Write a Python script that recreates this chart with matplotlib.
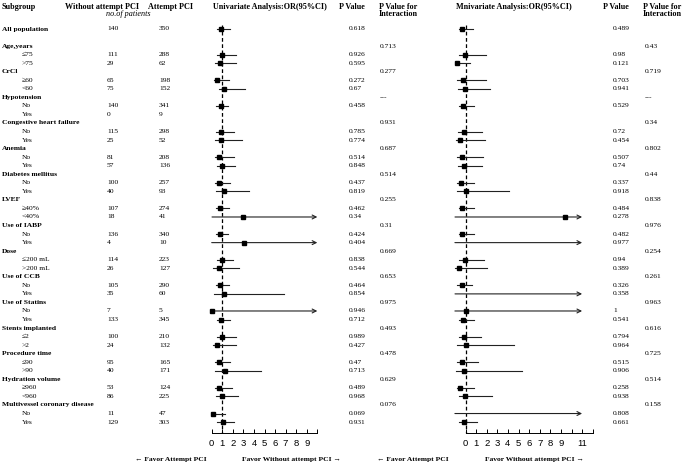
import numpy as np
import matplotlib
matplotlib.use("Agg")
import matplotlib.pyplot as plt

# ---- data -------------------------------------------------------------
groups = ["Age,years", "CrCl", "Hypotension", "Congestive heart failure",
          "Anemia", "Diabetes mellitus", "LVEF", "Use of IABP", "Dose",
          "Use of CCB", "Use of Statins", "Stents implanted", "Procedure time",
          "Hydration volume", "Multivessel coronary disease"]
levels = [["≤75", ">75"], ["≥60", "<60"], ["No", "Yes"], ["No", "Yes"],
          ["No", "Yes"], ["No", "Yes"], ["≥40%", "<40%"], ["No", "Yes"],
          ["≤200 mL", ">200 mL"], ["No", "Yes"], ["No", "Yes"],
          ["≤2", ">2"], ["≤90", ">90"], ["≥960", "<960"], ["No", "Yes"]]

# first entry = All population, then two levels per group
n_without = [140, 111, 29, 65, 75, 140, 0, 115, 25, 81, 57, 100, 40, 107, 18,
             136, 4, 114, 26, 105, 35, 7, 133, 100, 24, 95, 40, 53, 86, 11, 129]
n_attempt = [350, 288, 62, 198, 152, 341, 9, 298, 52, 208, 136, 257, 93, 274,
             41, 340, 10, 223, 127, 290, 60, 5, 345, 210, 132, 165, 171, 124,
             225, 47, 303]

nan, inf = np.nan, np.inf
uni_or = [0.88, 0.98, 0.79, 0.53, 1.19, 0.85, nan, 0.91, 0.88, 0.72, 0.95,
          0.72, 1.14, 0.79, 2.94, 0.79, 3.03, 0.95, 0.66, 0.79, 1.16, 0.0,
          0.91, 1.0, 0.53, 0.72, 1.29, 0.72, 1.0, 0.09, 1.04]
uni_lo = [0.47, 0.47, 0.28, 0.22, 0.66, 0.41, nan, 0.38, 0.28, 0.28, 0.47,
          0.34, 0.44, 0.41, 0.03, 0.41, 0.0, 0.47, 0.15, 0.41, 0.22, 0.0,
          0.47, 0.47, 0.15, 0.34, 0.31, 0.28, 0.41, 0.0, 0.53]
uni_hi = [1.73, 2.27, 2.27, 1.61, 3.12, 1.54, nan, 2.08, 2.87, 2.14, 2.2,
          1.7, 3.5, 1.64, inf, 1.54, inf, 2.05, 2.61, 1.61, 6.82, inf,
          1.76, 2.33, 2.27, 1.76, 4.64, 1.92, 2.46, 1.23, 2.08]
uni_p = ["0.618", "0.926", "0.595", "0.272", "0.67", "0.458", "", "0.785",
         "0.774", "0.514", "0.848", "0.437", "0.819", "0.462", "0.34", "0.424",
         "0.404", "0.838", "0.544", "0.464", "0.854", "0.946", "0.712", "0.989",
         "0.427", "0.47", "0.713", "0.489", "0.968", "0.069", "0.931"]
uni_pint = ["0.713", "0.277", "---", "0.931", "0.687", "0.514", "0.255",
            "0.31", "0.669", "0.653", "0.975", "0.493", "0.478", "0.629",
            "0.076"]

multi_or = [-0.3, -0.05, -0.8, -0.26, -0.08, -0.26, nan, -0.17, -0.49, -0.36,
            -0.17, -0.42, 0.05, -0.3, 9.42, -0.3, nan, -0.05, -0.58, -0.36,
            nan, 0.0, -0.26, -0.11, 0.05, -0.33, -0.11, -0.52, -0.05, nan,
            -0.17]
multi_lo = [-0.64, -0.64, -0.9, -0.77, -0.7, -0.64, nan, -0.7, -0.9, -0.83,
            -0.7, -0.77, -0.77, -0.64, -0.99, -0.64, -1.0, -0.64, -0.96,
            -0.77, -0.99, -1.0, -0.64, -0.64, -0.83, -0.77, -0.9, -0.77,
            -0.64, -1.0, -0.64]
multi_hi = [0.74, 1.93, 0.45, 1.9, 2.31, 0.8, nan, 1.53, 1.84, 1.62, 1.56,
            0.77, 4.13, 0.83, inf, 0.77, inf, 1.77, 2.0, 0.58, inf, inf, 0.83,
            1.46, 4.58, 1.15, 5.36, 0.77, 2.5, inf, 1.06]
multi_p = ["0.489", "0.98", "0.121", "0.703", "0.941", "0.529", "", "0.72",
           "0.454", "0.507", "0.74", "0.337", "0.918", "0.484", "0.278",
           "0.482", "0.977", "0.94", "0.389", "0.326", "0.358", "1", "0.541",
           "0.794", "0.964", "0.515", "0.906", "0.258", "0.938", "0.808",
           "0.661"]
multi_pint = ["0.43", "0.719", "---", "0.34", "0.802", "0.44", "0.838",
              "0.976", "0.254", "0.261", "0.963", "0.616", "0.725", "0.514",
              "0.158"]

uni_ticks = list(range(0, 11))
uni_ticklabels = [str(t) for t in range(10)] + [""]
multi_ticks = list(range(0, 13))
multi_ticklabels = [str(t) for t in range(10)] + ["", "11", ""]

# ---- layout -------------------------------------------------------------
W, H = 685, 465
ROW0, DROW = 29, 8.545          # pixel y of first row, row spacing
AXIS_Y = 433                    # pixel y of the x axes
SERIF = ["Liberation Serif", "DejaVu Serif"]
FS = 5.4
HFS = 5.9

def row_of_px(py):
    return (py - ROW0) / DROW

# row index for each data entry
data_rows = [0]
group_rows = []
for g in range(len(groups)):
    r = 2 + 3 * g
    group_rows.append(r)
    data_rows += [r + 1, r + 2]

fig = plt.figure(figsize=(W / 100, H / 100), dpi=100)

# text layer in pixel x / row y
tx = fig.add_axes([0, 0, 1, 1])
tx.set_xlim(0, W)
tx.set_ylim(row_of_px(H), row_of_px(0))
tx.axis("off")

def put(x, r, s, bold=False, italic=False, size=FS):
    tx.text(x, r, s, ha="left", va="center", family=SERIF, fontsize=size,
            fontweight="bold" if bold else "normal",
            fontstyle="italic" if italic else "normal")

hr = row_of_px(7)
put(2, hr, "Subgroup", bold=True, size=HFS)
put(65, hr, "Without attempt PCI", bold=True, size=HFS)
put(148, hr, "Attempt PCI", bold=True, size=HFS)
put(106, row_of_px(14), "no.of patients", italic=True, size=HFS)
put(213, hr, "Univariate Analysis:OR(95%CI)", bold=True, size=HFS)
put(339, hr, "P Value", bold=True, size=HFS)
put(379, hr, "P Value for", bold=True, size=HFS)
put(379, row_of_px(14.5), "Interaction", bold=True, size=HFS)
put(456, hr, "Mnivariate Analysis:OR(95%CI)", bold=True, size=HFS)
put(603, hr, "P Value", bold=True, size=HFS)
put(643, hr, "P Value for", bold=True, size=HFS)
put(643, row_of_px(14.5), "Interaction", bold=True, size=HFS)

put(2, 0, "All population", bold=True)
for g, r in enumerate(group_rows):
    put(2, r, groups[g], bold=True)
    put(380, r, uni_pint[g])
    put(645, r, multi_pint[g])
    for j, lv in enumerate(levels[g]):
        put(22, r + 1 + j, lv)

for k, r in enumerate(data_rows):
    put(107, r, str(n_without[k]))
    put(159, r, str(n_attempt[k]))
    put(349, r, uni_p[k])
    put(613, r, multi_p[k])

# ---- forest panels -----------------------------------------------------
def forest(x0_px, unit_px, xmax, ref, est, lo, hi, arrow_end, ticks, labels):
    ax = fig.add_axes([x0_px / W, (H - AXIS_Y) / H,
                       unit_px * xmax / W, AXIS_Y / H])
    ax.set_xlim(0, xmax)
    ax.set_ylim(row_of_px(AXIS_Y), row_of_px(0))
    ax.patch.set_visible(False)
    for s in ("top", "right", "left"):
        ax.spines[s].set_visible(False)
    ax.spines["bottom"].set_linewidth(0.7)
    ax.set_yticks([])
    ax.set_xticks(ticks)
    ax.set_xticklabels(labels, family=["Liberation Sans", "DejaVu Sans"],
                       fontsize=6.8)
    ax.tick_params(axis="x", direction="in", length=3, width=0.7, pad=4)
    ax.vlines(ref, -0.5, row_of_px(AXIS_Y), colors="black",
              linestyles=(0, (3, 2)), linewidth=0.9, clip_on=False)
    for k, r in enumerate(data_rows):
        if np.isnan(lo[k]):
            continue
        if np.isinf(hi[k]):
            ax.annotate("", xy=(arrow_end, r), xytext=(lo[k], r),
                        arrowprops=dict(arrowstyle="->", lw=0.8,
                                        color="#222222", shrinkA=0,
                                        shrinkB=0, mutation_scale=7),
                        annotation_clip=False)
        else:
            ax.plot([lo[k], hi[k]], [r, r], color="#222222", lw=0.8,
                    clip_on=False)
        if not np.isnan(est[k]):
            ax.plot(est[k], r, marker="s", color="black", markersize=3,
                    clip_on=False, zorder=3)
    return ax

forest(211.7, 10.56, 10, 1, uni_or, uni_lo, uni_hi, 10,
       uni_ticks, uni_ticklabels)
forest(465.5, 10.6, 12, 0, multi_or, multi_lo, multi_hi, 11,
       multi_ticks, multi_ticklabels)

fy = 1 - 459 / H
for x, s in [(135, "← Favor Attempt PCI"), (242, "Favor Without attempt PCI →"),
             (377, "← Favor Attempt PCI"), (485, "Favor Without attempt PCI →")]:
    fig.text(x / W, fy, s, ha="left", va="center", family=SERIF,
             fontsize=FS, fontweight="bold")

fig.savefig("out.png", dpi=100)
